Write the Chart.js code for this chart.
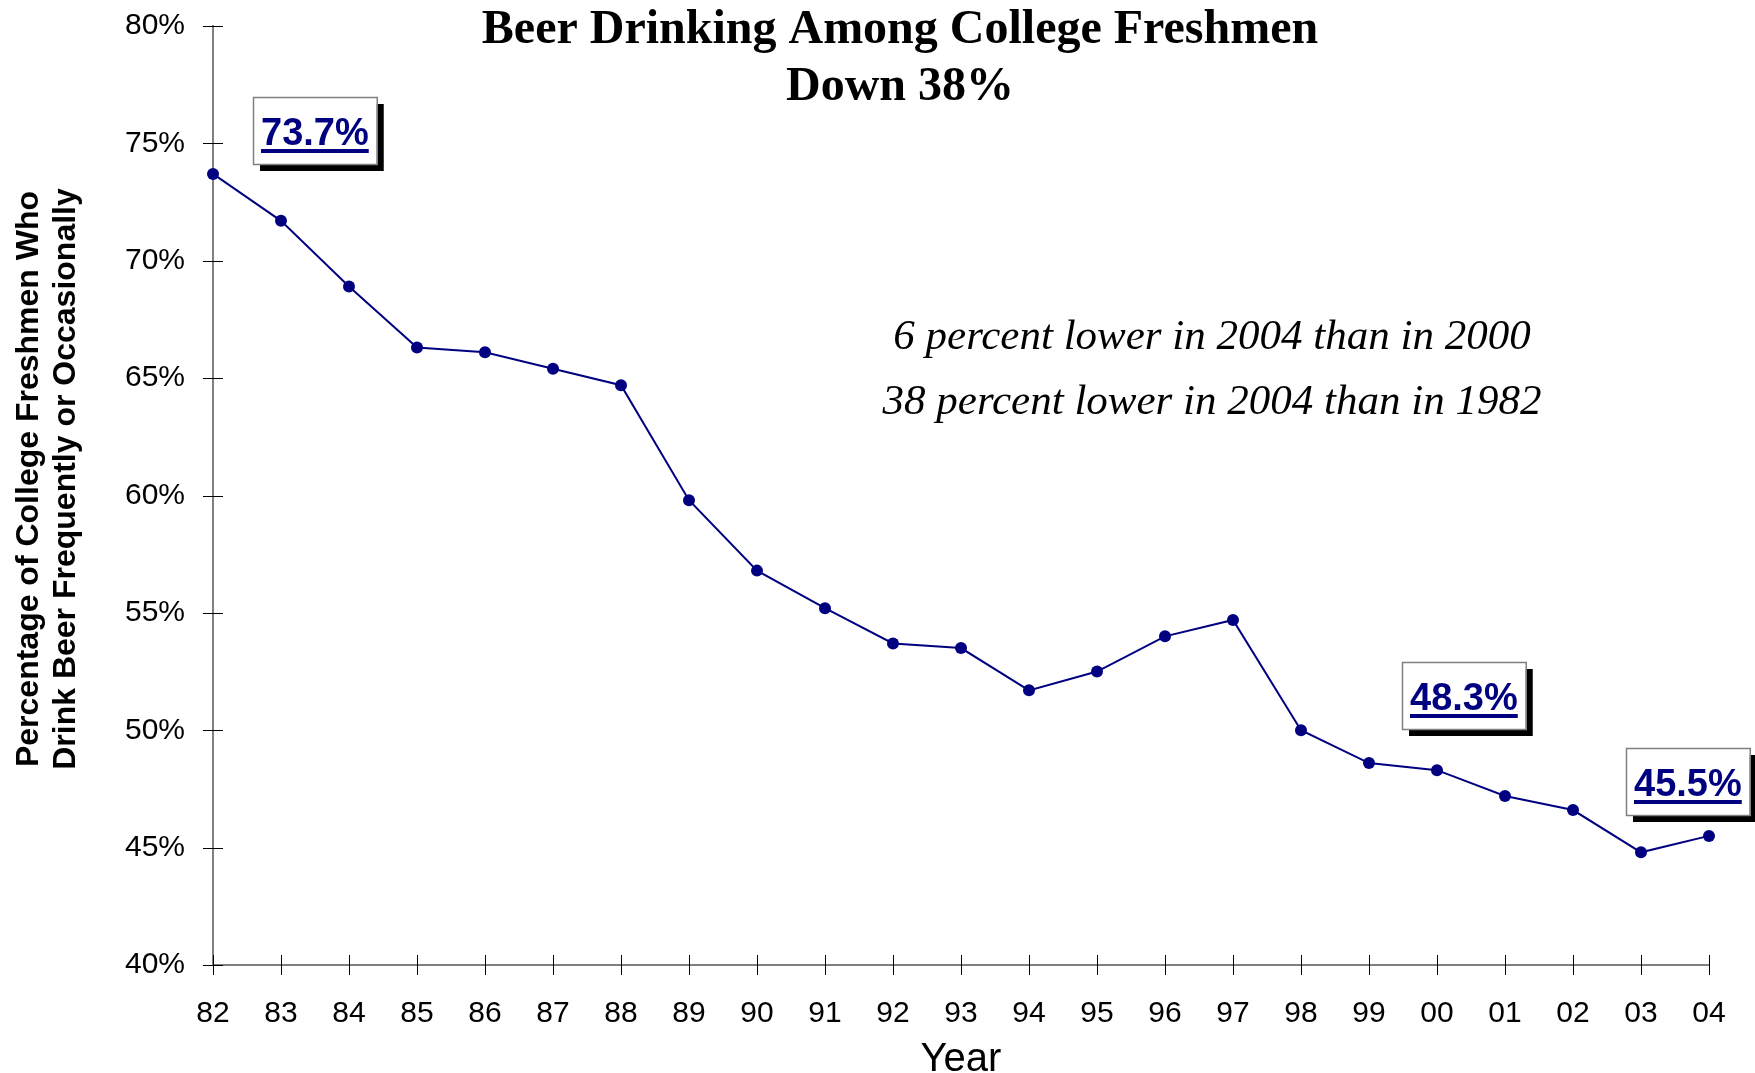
<!DOCTYPE html>
<html>
<head>
<meta charset="utf-8">
<script src="https://cdn.jsdelivr.net/npm/chart.js@4/dist/chart.umd.min.js"></script>
<style>
  html, body { margin: 0; padding: 0; background: #fff; }
  #wrap { width: 1755px; height: 1073px; position: relative; }
</style>
</head>
<body>
<div id="wrap"><canvas id="beerChart"></canvas></div>
<script>
// data
const years = ["82", "83", "84", "85", "86", "87", "88", "89", "90", "91", "92",
  "93", "94", "95", "96", "97", "98", "99", "00", "01", "02", "03", "04"];
const beerPct = [73.7, 71.7, 68.9, 66.3, 66.1, 65.4, 64.7, 59.8, 56.8, 55.2, 53.7,
  53.5, 51.7, 52.5, 54.0, 54.7, 50.0, 48.6, 48.3, 47.2, 46.6, 44.8, 45.5];
const yTicks = [40, 45, 50, 55, 60, 65, 70, 75, 80];

const titleLines = ["Beer Drinking Among College Freshmen", "Down 38%"];
const noteLines = ["6 percent lower in 2004 than in 2000", "38 percent lower in 2004 than in 1982"];
const yTitleLines = ["Percentage of College Freshmen Who", "Drink Beer Frequently or Occasionally"];
const xTitle = "Year";

// which points get a boxed label (offset of box centre from the point)
const callouts = [
  { index: 0, dx: 102, dy: -43 },
  { index: 18, dx: 27, dy: -75 },
  { index: 22, dx: -21, dy: -54 },
];

const NAVY = "#000080";
const SANS = '"Liberation Sans", Arial, sans-serif';
const SERIF = '"Liberation Serif", "Times New Roman", serif';
const TICK = 10; // half length of the tick marks, they cross the axis

// chart.js tick marks are hidden (used only as label spacing), draw crossing ones here
const crossTicks = {
  id: "crossTicks",
  beforeDatasetsDraw(chart) {
    const { ctx, chartArea, scales } = chart;
    ctx.save();
    ctx.strokeStyle = "#000";
    ctx.lineWidth = 1;
    ctx.beginPath();
    scales.x.ticks.forEach((_, i) => {
      const x = Math.round(scales.x.getPixelForTick(i)) + 0.5;
      ctx.moveTo(x, chartArea.bottom + TICK);
      ctx.lineTo(x, chartArea.bottom - TICK);
    });
    scales.y.ticks.forEach((_, i) => {
      const y = Math.round(scales.y.getPixelForTick(i)) + 0.5;
      ctx.moveTo(chartArea.left - TICK, y);
      ctx.lineTo(chartArea.left + TICK, y);
    });
    ctx.stroke();
    ctx.restore();
  },
};

const textBits = {
  id: "textBits",
  afterDraw(chart) {
    const { ctx, scales } = chart;
    ctx.save();
    ctx.fillStyle = "#000";
    ctx.textAlign = "center";
    ctx.textBaseline = "alphabetic";

    // headline
    ctx.font = "bold 48px " + SERIF;
    ctx.fillText(titleLines[0], 900, 43);
    ctx.fillText(titleLines[1], 900, 100);

    // notes
    ctx.font = "italic 43px " + SERIF;
    ctx.fillText(noteLines[0], 1212, 349);
    ctx.fillText(noteLines[1], 1212, 414);

    // y axis title, two rotated lines
    ctx.save();
    ctx.translate(0, 479);
    ctx.rotate(-Math.PI / 2);
    ctx.font = "bold 32px " + SANS;
    ctx.textBaseline = "middle";
    ctx.fillText(yTitleLines[0], 0, 29);
    ctx.fillText(yTitleLines[1], 0, 66);
    ctx.restore();

    // boxed value labels
    ctx.font = "bold 38px " + SANS;
    callouts.forEach((c) => {
      const px = scales.x.getPixelForValue(c.index);
      const py = scales.y.getPixelForValue(beerPct[c.index]);
      const txt = beerPct[c.index].toFixed(1) + "%";
      const tw = ctx.measureText(txt).width;
      const w = tw + 16;
      const h = 67;
      const x0 = Math.round(px + c.dx - w / 2);
      const y0 = Math.round(py + c.dy - h / 2);
      ctx.fillStyle = "#000";
      ctx.fillRect(x0 + 7, y0 + 7, w, h);
      ctx.fillStyle = "#fff";
      ctx.fillRect(x0, y0, w, h);
      ctx.strokeStyle = "#808080";
      ctx.lineWidth = 1.5;
      ctx.strokeRect(x0 + 0.5, y0 + 0.5, w, h);
      ctx.fillStyle = NAVY;
      ctx.fillText(txt, x0 + w / 2, y0 + 48);
      ctx.fillRect(x0 + w / 2 - tw / 2, y0 + 52, tw, 4);
    });
    ctx.restore();
  },
};

const hiddenTicks = {
  display: true,
  drawOnChartArea: false,
  drawTicks: true,
  tickLength: 28,
  tickColor: "rgba(0,0,0,0)",
};

new Chart(document.getElementById("beerChart").getContext("2d"), {
  type: "line",
  data: {
    labels: years,
    datasets: [
      {
        data: beerPct,
        borderColor: NAVY,
        backgroundColor: NAVY,
        borderWidth: 2,
        pointRadius: 6,
        pointBackgroundColor: NAVY,
        pointBorderColor: NAVY,
        pointBorderWidth: 0,
        tension: 0,
        clip: false,
      },
    ],
  },
  options: {
    responsive: true,
    maintainAspectRatio: false,
    animation: false,
    devicePixelRatio: 1,
    layout: { padding: { top: 26, right: 46, bottom: 0, left: 0 } },
    plugins: {
      legend: { display: false },
      tooltip: { enabled: false },
      title: { display: false },
    },
    scales: {
      x: {
        type: "category",
        offset: false,
        afterFit: (s) => { s.height = 108; },
        border: { display: true, color: "#808080", width: 2 },
        grid: { ...hiddenTicks, tickLength: 31 },
        ticks: {
          color: "#000",
          padding: 0,
          maxRotation: 0,
          autoSkip: false,
          font: { family: SANS, size: 30 },
        },
        title: {
          display: true,
          text: xTitle,
          color: "#000",
          padding: { top: 0, bottom: 0 },
          font: { family: SANS, size: 40, lineHeight: 0.64 },
        },
      },
      y: {
        min: 40,
        max: 80,
        afterFit: (s) => { s.width = 213; },
        afterBuildTicks: (s) => { s.ticks = yTicks.map((v) => ({ value: v })); },
        border: { display: true, color: "#808080", width: 2 },
        grid: hiddenTicks,
        ticks: {
          color: "#000",
          padding: 0,
          font: { family: SANS, size: 30 },
          callback: (v) => v + "%",
        },
      },
    },
  },
  plugins: [crossTicks, textBits],
});
</script>
</body>
</html>
